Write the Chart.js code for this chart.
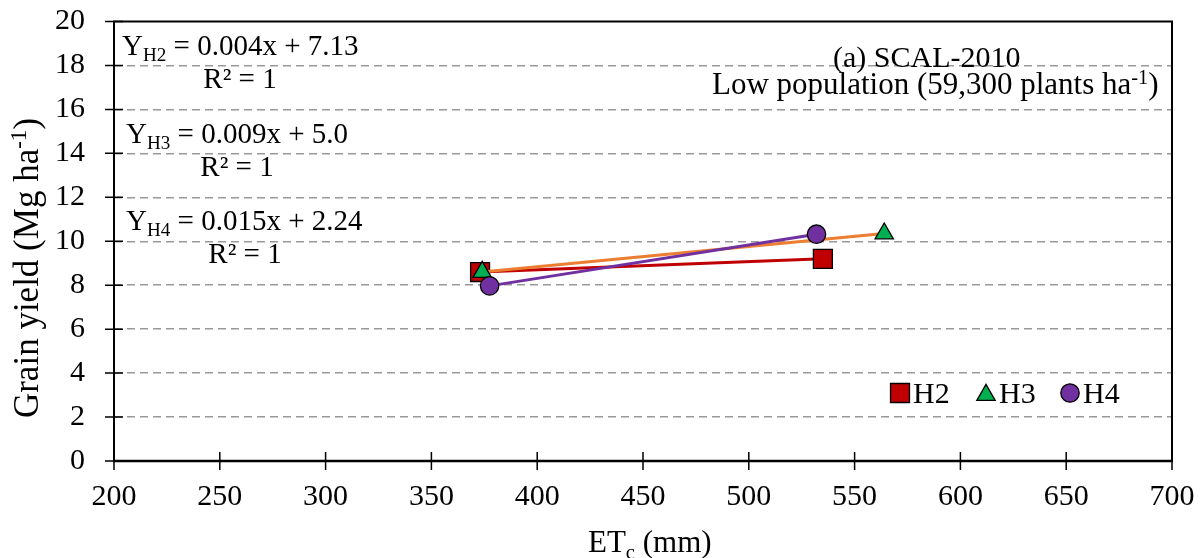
<!DOCTYPE html>
<html>
<head>
<meta charset="utf-8">
<script src="https://cdn.jsdelivr.net/npm/chart.js@4.4.1/dist/chart.umd.min.js"></script>
<style>
  html, body { margin: 0; padding: 0; background: #fff; }
</style>
</head>
<body>
<canvas id="chart" width="1201" height="558"></canvas>
<script>
// ── Data ──
const seriesNames = ['H2', 'H3', 'H4'];
const etcH2 = [373, 535];
const yieldH2 = [8.6, 9.2];
const etcH3 = [374, 564];
const yieldH3 = [8.6, 10.35];
const etcH4 = [377.5, 532];
const yieldH4 = [7.97, 10.32];
const xTickValues = [200, 250, 300, 350, 400, 450, 500, 550, 600, 650, 700];
const yTickValues = [0, 2, 4, 6, 8, 10, 12, 14, 16, 18, 20];
const equations = [
  { sub: 'H2', rest: ' = 0.004x + 7.13' },
  { sub: 'H3', rest: ' = 0.009x + 5.0' },
  { sub: 'H4', rest: ' = 0.015x + 2.24' }
];

const FONT = '"Liberation Serif", "Times New Roman", serif';
Chart.defaults.font.family = FONT;
Chart.defaults.color = '#000';

const colors = {
  H2: { line: '#C00000', fill: '#C00000', shape: 'rect', r: 13.4 },
  H3: { line: '#ED7D31', fill: '#00B050', shape: 'triangle', r: 10.6 },
  H4: { line: '#7030A0', fill: '#7030A0', shape: 'circle', r: 9.2 }
};

function pts(xs, ys) { return xs.map((x, i) => ({ x: x, y: ys[i] })); }

function makeSet(name, xs, ys, order) {
  const c = colors[name];
  return {
    label: name,
    data: pts(xs, ys),
    showLine: true,
    borderColor: c.line,
    borderWidth: 3,
    pointStyle: c.shape,
    pointRadius: c.r,
    pointHoverRadius: c.r,
    pointBackgroundColor: c.fill,
    pointBorderColor: '#000',
    pointBorderWidth: 1.3,
    order: order
  };
}

// ── Helper: write a run of text pieces (normal / sub / sup) ──
function richWidth(ctx, parts, size) {
  let w = 0;
  parts.forEach(p => {
    const s = p.k ? size * 0.66 : size;
    ctx.font = s + 'px ' + FONT;
    w += ctx.measureText(p.t).width;
  });
  return w;
}
function drawRich(ctx, parts, x, y, size, align) {
  let cx = x;
  if (align === 'center') cx = x - richWidth(ctx, parts, size) / 2;
  ctx.textAlign = 'left';
  ctx.textBaseline = 'alphabetic';
  ctx.fillStyle = '#000';
  parts.forEach(p => {
    const s = p.k ? size * 0.66 : size;
    const dy = p.k === 'sub' ? size * 0.22 : p.k === 'sup' ? -size * 0.33 : 0;
    ctx.font = s + 'px ' + FONT;
    ctx.fillText(p.t, cx, y + dy);
    cx += ctx.measureText(p.t).width;
  });
}

function drawMarker(ctx, shape, x, y, r, fill) {
  ctx.save();
  ctx.fillStyle = fill;
  ctx.strokeStyle = '#000';
  ctx.lineWidth = 1.3;
  ctx.beginPath();
  if (shape === 'rect') {
    const h = r * Math.SQRT1_2;
    ctx.rect(x - h, y - h, 2 * h, 2 * h);
  } else if (shape === 'triangle') {
    for (let i = 0; i < 3; i++) {
      const a = i * 2 * Math.PI / 3;
      const px = x + Math.sin(a) * r, py = y - Math.cos(a) * r;
      if (i === 0) ctx.moveTo(px, py); else ctx.lineTo(px, py);
    }
    ctx.closePath();
  } else {
    ctx.arc(x, y, r, 0, Math.PI * 2);
  }
  ctx.fill();
  ctx.stroke();
  ctx.restore();
}

// ── Frame, crossing tick marks, titles, equations and legend ──
const decorPlugin = {
  id: 'decor',
  afterDraw(chart) {
    const ctx = chart.ctx;
    const a = chart.chartArea;
    const xs = chart.scales.x, ys = chart.scales.y;
    ctx.save();

    // frame
    ctx.strokeStyle = '#000';
    ctx.lineWidth = 2;
    ctx.strokeRect(a.left, a.top, a.right - a.left, a.bottom - a.top);
    ctx.lineWidth = 2.5;
    ctx.beginPath();
    ctx.moveTo(a.left - 1, a.bottom);
    ctx.lineTo(a.right + 1, a.bottom);
    ctx.stroke();

    // tick marks crossing the axes
    ctx.lineWidth = 1.5;
    ctx.beginPath();
    yTickValues.forEach(v => {
      const py = ys.getPixelForValue(v);
      ctx.moveTo(a.left - 9, py);
      ctx.lineTo(a.left + 9, py);
    });
    xTickValues.forEach(v => {
      const px = xs.getPixelForValue(v);
      ctx.moveTo(px, a.bottom - 9);
      ctx.lineTo(px, a.bottom + 9);
    });
    ctx.stroke();

    // axis titles
    drawRich(ctx, [{ t: 'ET' }, { t: 'c', k: 'sub' }, { t: ' (mm)' }], 588, 552, 31, 'left');
    ctx.save();
    ctx.translate(38, 268);
    ctx.rotate(-Math.PI / 2);
    drawRich(ctx, [{ t: 'Grain yield (Mg ha' }, { t: '-1', k: 'sup' }, { t: ')' }], 0, 0, 35, 'center');
    ctx.restore();

    // regression equations
    const eqPos = [
      { x: 122, y: 55, rx: 240, ry: 88 },
      { x: 126, y: 143, rx: 237, ry: 176 },
      { x: 126, y: 230, rx: 245, ry: 263 }
    ];
    equations.forEach((e, i) => {
      const p = eqPos[i];
      drawRich(ctx, [{ t: 'Y' }, { t: e.sub, k: 'sub' }, { t: e.rest }], p.x, p.y, 29, 'left');
      drawRich(ctx, [{ t: 'R² = 1' }], p.rx, p.ry, 29, 'center');
    });

    // panel label
    drawRich(ctx, [{ t: '(a) SCAL-2010' }], 833, 67, 30, 'left');
    drawRich(ctx, [{ t: 'Low population (59,300 plants ha' }, { t: '-1', k: 'sup' }, { t: ')' }], 712, 94, 31, 'left');

    // legend
    const legX = [900, 986, 1070];
    seriesNames.forEach((n, i) => {
      const c = colors[n];
      drawMarker(ctx, c.shape, legX[i], i === 1 ? 395 : 393, c.r, c.fill);
      drawRich(ctx, [{ t: n }], legX[i] + 13, 403, 30, 'left');
    });

    ctx.restore();
  }
};

new Chart(document.getElementById('chart'), {
  type: 'scatter',
  data: {
    datasets: [
      makeSet('H2', etcH2, yieldH2, 2),
      makeSet('H3', etcH3, yieldH3, 1),
      makeSet('H4', etcH4, yieldH4, 0)
    ]
  },
  options: {
    responsive: false,
    animation: false,
    devicePixelRatio: 1,
    font: { family: FONT },
    layout: { padding: { left: 0, top: 21.5, right: 29, bottom: 0 } },
    plugins: { legend: { display: false }, tooltip: { enabled: false } },
    scales: {
      x: {
        type: 'linear',
        min: 200, max: 700,
        afterFit: s => { s.height = 97; s.paddingLeft = 0; s.paddingRight = 0; },
        afterBuildTicks: s => { s.ticks = xTickValues.map(v => ({ value: v })); },
        grid: { display: false, drawTicks: false },
        border: { display: false },
        ticks: { color: '#000', padding: 18, font: { family: FONT, size: 30 }, maxRotation: 0, autoSkip: false }
      },
      y: {
        type: 'linear',
        min: 0, max: 20,
        afterFit: s => { s.width = 114; s.paddingTop = 0; s.paddingBottom = 0; },
        afterBuildTicks: s => { s.ticks = yTickValues.map(v => ({ value: v })); },
        grid: {
          drawTicks: false,
          lineWidth: 1.5,
          color: c => (c.tick && (c.tick.value === 0 || c.tick.value === 20)) ? 'rgba(0,0,0,0)' : '#999999'
        },
        border: { display: false, dash: [8, 5] },
        ticks: { color: '#000', padding: 29, font: { family: FONT, size: 30 }, autoSkip: false }
      }
    }
  },
  plugins: [decorPlugin]
});
</script>
</body>
</html>
